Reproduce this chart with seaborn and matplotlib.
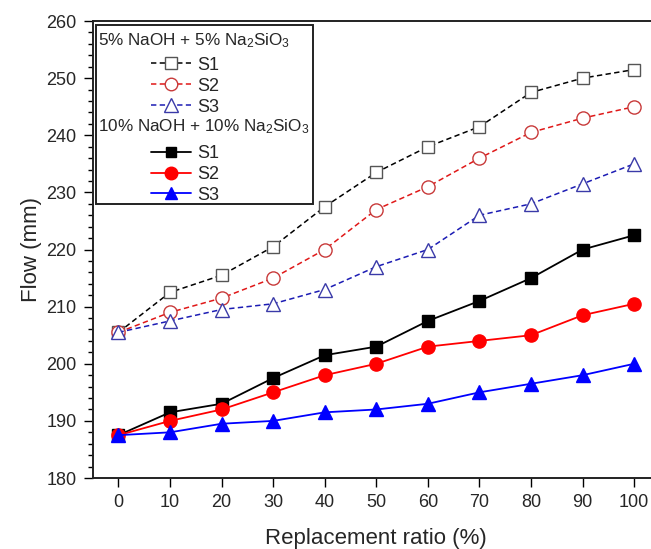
import numpy as np
import pandas as pd
import matplotlib
matplotlib.use('Agg')
import matplotlib.pyplot as plt
from matplotlib.lines import Line2D
from matplotlib.patches import Rectangle
from matplotlib.ticker import MultipleLocator
import seaborn as sns

# =============================================================================
# DATA
# =============================================================================
ratio = [0, 10, 20, 30, 40, 50, 60, 70, 80, 90, 100]

# 5% NaOH + 5% Na2SiO3 (open markers, dashed)
s1_low = [205.5, 212.5, 215.5, 220.5, 227.5, 233.5, 238.0, 241.5, 247.5, 250.0, 251.5]
s2_low = [205.5, 209.0, 211.5, 215.0, 220.0, 227.0, 231.0, 236.0, 240.5, 243.0, 245.0]
s3_low = [205.5, 207.5, 209.5, 210.5, 213.0, 217.0, 220.0, 226.0, 228.0, 231.5, 235.0]

# 10% NaOH + 10% Na2SiO3 (filled markers, solid)
s1_high = [187.5, 191.5, 193.0, 197.5, 201.5, 203.0, 207.5, 211.0, 215.0, 220.0, 222.5]
s2_high = [187.5, 190.0, 192.0, 195.0, 198.0, 200.0, 203.0, 204.0, 205.0, 208.5, 210.5]
s3_high = [187.5, 188.0, 189.5, 190.0, 191.5, 192.0, 193.0, 195.0, 196.5, 198.0, 200.0]

header_low = '5% NaOH + 5% Na$_2$SiO$_3$'
header_high = '10% NaOH + 10% Na$_2$SiO$_3$'
series_names = ['S1', 'S2', 'S3']

# =============================================================================
# ESTILO
# =============================================================================
sns.set_style('ticks')
plt.rcParams['font.family'] = ['Liberation Sans', 'DejaVu Sans']
plt.rcParams['mathtext.fontset'] = 'custom'
plt.rcParams['mathtext.rm'] = 'Liberation Sans'
plt.rcParams['mathtext.it'] = 'Liberation Sans'

fig = plt.figure(figsize=(6.51, 5.49), dpi=100)
# el eje derecho queda fuera de la imagen, como en la figura original
ax = fig.add_axes([0.1424, 0.1293, 0.8714, 0.8324])

DASH = (0, (3.5, 2.2))

estilos_low = [
    dict(color='black', marker='s', mfc='white', mec='#555555', ms=8.5),
    dict(color='#e01818', marker='o', mfc='white', mec='#c83a3a', ms=9.5),
    dict(color='#1c1cb4', marker='^', mfc='white', mec='#3a3aa8', ms=10),
]
estilos_high = [
    dict(color='black', marker='s', mfc='black', mec='black', ms=8),
    dict(color='#ff0000', marker='o', mfc='#ff0000', mec='#ff0000', ms=9.5),
    dict(color='#0000ff', marker='^', mfc='#0000ff', mec='#0000ff', ms=9.5),
]

df = pd.DataFrame({
    'ratio': ratio,
    'S1_low': s1_low, 'S2_low': s2_low, 'S3_low': s3_low,
    'S1_high': s1_high, 'S2_high': s2_high, 'S3_high': s3_high,
})

for name, est in zip(series_names, estilos_low):
    sns.lineplot(data=df, x='ratio', y=f'{name}_low', ax=ax,
                 color=est['color'], linestyle=DASH, linewidth=1.1,
                 marker=est['marker'], markersize=est['ms'],
                 markerfacecolor=est['mfc'], markeredgecolor=est['mec'],
                 markeredgewidth=1.0, zorder=3)

for name, est in zip(series_names, estilos_high):
    sns.lineplot(data=df, x='ratio', y=f'{name}_high', ax=ax,
                 color=est['color'], linestyle='-', linewidth=1.3,
                 marker=est['marker'], markersize=est['ms'],
                 markerfacecolor=est['mfc'], markeredgecolor=est['mec'],
                 markeredgewidth=1.0, zorder=4)

# =============================================================================
# EJES
# =============================================================================
ax.set_xlim(-5, 105)
ax.set_ylim(180, 260)
ax.set_xticks(ratio)
ax.yaxis.set_major_locator(MultipleLocator(10))
ax.yaxis.set_minor_locator(MultipleLocator(2))

ax.tick_params(axis='both', which='major', direction='out', length=6.5,
               width=1.0, labelsize=13, pad=5, color='black')
ax.tick_params(axis='y', which='minor', direction='out', length=3.5,
               width=1.0, color='black')
ax.tick_params(axis='x', which='minor', bottom=False)

for sp in ax.spines.values():
    sp.set_linewidth(1.4)
    sp.set_color('#222222')

ax.set_xlabel('Replacement ratio (%)', fontsize=16, labelpad=12)
ax.set_ylabel('Flow (mm)', fontsize=16, labelpad=3)

# =============================================================================
# LEYENDA
# =============================================================================
ax.add_patch(Rectangle((0.0058, 0.5996), 0.382, 0.3914,
                       transform=ax.transAxes, fill=False,
                       edgecolor='#222222', linewidth=1.4, zorder=5))

ax.text(0.0095, 0.958, header_low, transform=ax.transAxes,
        fontsize=12.3, va='center', ha='left', zorder=6)
ax.text(0.0095, 0.768, header_high, transform=ax.transAxes,
        fontsize=12.3, va='center', ha='left', zorder=6)


def crear_handles(estilos, ls, lw):
    return [Line2D([], [], color=e['color'], linestyle=ls, linewidth=lw,
                   marker=e['marker'], markersize=e['ms'] * 0.95,
                   markerfacecolor=e['mfc'], markeredgecolor=e['mec'],
                   markeredgewidth=1.0)
            for e in estilos]


leg_kws = dict(frameon=False, fontsize=13, handlelength=2.2,
               handletextpad=0.35, labelspacing=0.22, borderpad=0,
               borderaxespad=0, loc='upper left')

leg1 = ax.legend(crear_handles(estilos_low, DASH, 1.1), series_names,
                 bbox_to_anchor=(0.1028, 0.922), **leg_kws)
ax.add_artist(leg1)
leg2 = ax.legend(crear_handles(estilos_high, '-', 1.3), series_names,
                 bbox_to_anchor=(0.1028, 0.729), **leg_kws)

plt.savefig('out.png', dpi=100)
